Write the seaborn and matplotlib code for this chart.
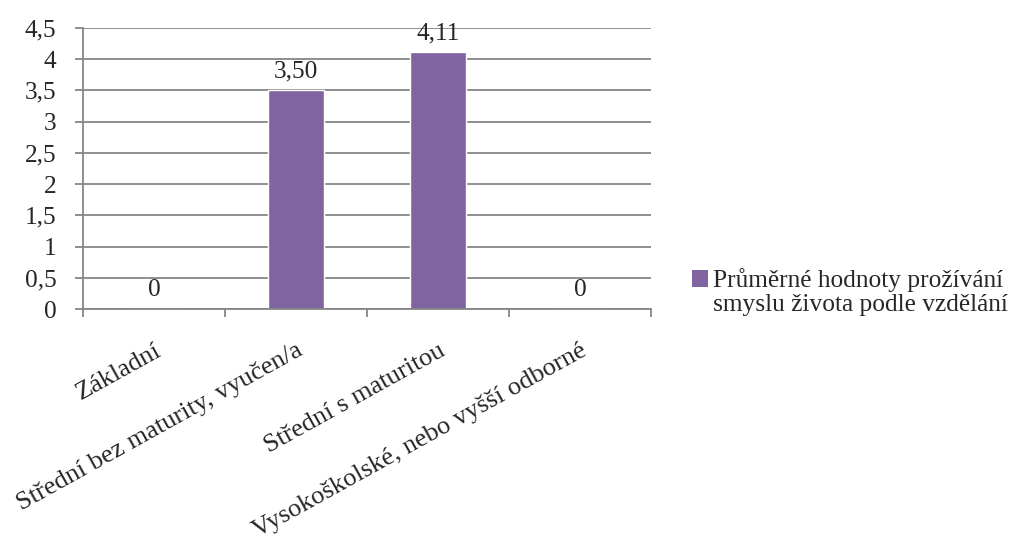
import matplotlib
matplotlib.use("Agg")
import matplotlib.pyplot as plt
import seaborn as sns
import pandas as pd
from matplotlib.patches import Patch

categories = ["Základní", "Střední bez maturity, vyučen/a", "Střední s maturitou",
              "Vysokoškolské, nebo vyšší odborné"]
values = [0.0, 3.50, 4.11, 0.0]
value_labels = ["0", "3,50", "4,11", "0"]
y_ticks = [0, 0.5, 1, 1.5, 2, 2.5, 3, 3.5, 4, 4.5]
y_tick_labels = ["0", "0,5", "1", "1,5", "2", "2,5", "3", "3,5", "4", "4,5"]
legend_lines = ["Průměrné hodnoty prožívání", "smyslu života podle vzdělání"]

sns.set_theme(style="white")
plt.rcParams["font.family"] = ["Liberation Serif", "DejaVu Serif"]

BAR = "#8064A2"
GRID = "#868686"
FS = 18.3
FSX = 19

fig = plt.figure(figsize=(10.25, 5.46), dpi=100)
ax = fig.add_axes([83/1025, 1-309/546, (651-83)/1025, (309-28)/546])

df = pd.DataFrame({"cat": categories, "val": values})
sns.barplot(data=df, x="cat", y="val", color=BAR, width=0.4, ax=ax, saturation=1)

ax.set_xlim(-0.5, len(categories) - 0.5)
ax.set_ylim(0, 4.5)
ax.set_yticks(y_ticks)
ax.set_yticklabels(y_tick_labels, fontsize=FS)
ax.yaxis.grid(True, color=GRID, linewidth=1.3)
ax.set_axisbelow(True)
ax.set_xlabel("")
ax.set_ylabel("")

for s in ["top", "right"]:
    ax.spines[s].set_visible(False)
for s in ["left", "bottom"]:
    ax.spines[s].set_color(GRID)
    ax.spines[s].set_linewidth(1.3)

ax.tick_params(axis="y", which="major", left=True, length=6, color=GRID, width=1.3, pad=13)
ax.set_xticks(range(len(categories)))
ax.set_xticklabels(categories, fontsize=FSX, rotation=29, ha="right", va="top",
                   rotation_mode="anchor")
ax.tick_params(axis="x", which="major", length=0, pad=22)
ax.set_xticks([i - 0.5 for i in range(len(categories) + 1)], minor=True)
ax.tick_params(axis="x", which="minor", bottom=True, length=6, color=GRID, width=1.3)

for i, (v, lab) in enumerate(zip(values, value_labels)):
    ax.annotate(lab, (i, v), xytext=(0, 6), textcoords="offset points",
                ha="center", va="bottom", fontsize=FS)

handles = [Patch(facecolor=BAR, edgecolor="none"), Patch(facecolor="none", edgecolor="none")]
fig.legend(handles, legend_lines, loc="center left",
           bbox_to_anchor=(692/1025, 1-292/546), frameon=False, fontsize=FS,
           handlelength=0.62, handleheight=0.62, handletextpad=0.2,
           labelspacing=0.05, borderaxespad=0, borderpad=0)

fig.savefig("out.png", dpi=100)
